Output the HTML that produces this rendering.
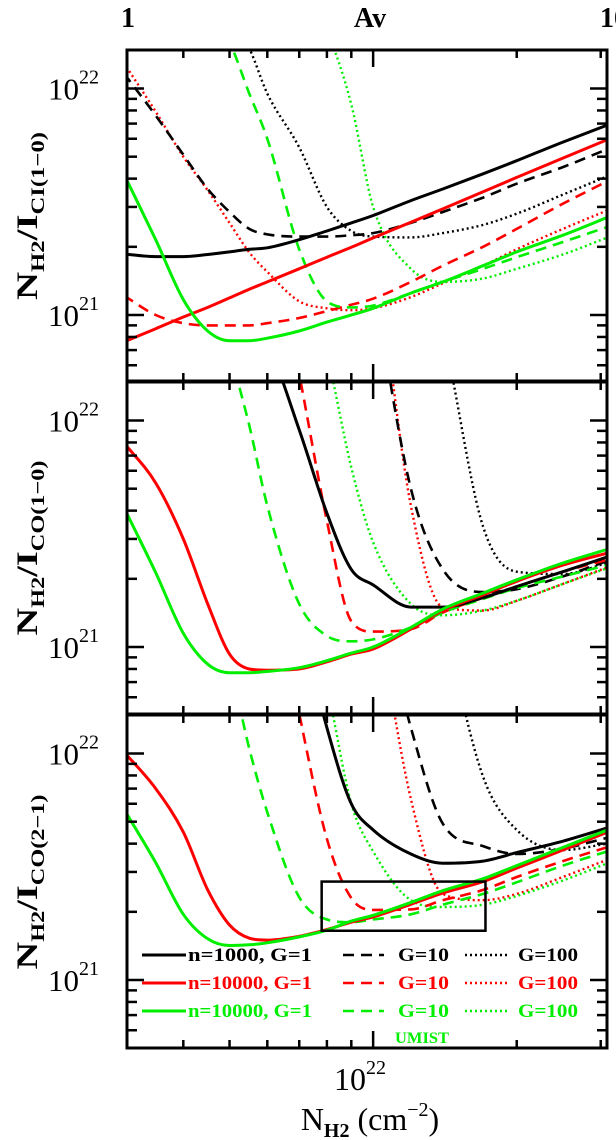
<!DOCTYPE html>
<html><head><meta charset="utf-8">
<style>
html,body{margin:0;padding:0;background:#fff;}
svg{display:block;font-family:"Liberation Serif","DejaVu Serif",serif;}
</style></head>
<body>
<svg id="chart" width="616" height="1140" viewBox="0 0 616 1140" xmlns="http://www.w3.org/2000/svg">
  <defs>
    <clipPath id="clip0"><rect x="127" y="50" width="480" height="331"/></clipPath>
    <clipPath id="clip1"><rect x="127" y="382" width="480" height="332"/></clipPath>
    <clipPath id="clip2"><rect x="127" y="715" width="480" height="333"/></clipPath>
  </defs>
  <g id="curves"></g>
  <g id="frames"></g>
  <g id="labels" font-weight="bold">
    <text x="128" y="27" font-size="28" text-anchor="middle">1</text>
    <text x="370" y="27" font-size="28" text-anchor="middle">Av</text>
    <text x="614" y="27" font-size="28" text-anchor="middle">10</text>
    <g transform="translate(37,216) rotate(-90)">
      <text text-anchor="middle" font-size="30" textLength="168" lengthAdjust="spacingAndGlyphs">N<tspan font-size="19" dy="7">H2</tspan><tspan dy="-7">/I</tspan><tspan font-size="19" dy="7">CI(1−0)</tspan></text>
    </g>
    <g transform="translate(37,548) rotate(-90)">
      <text text-anchor="middle" font-size="30" textLength="175" lengthAdjust="spacingAndGlyphs">N<tspan font-size="19" dy="7">H2</tspan><tspan dy="-7">/I</tspan><tspan font-size="19" dy="7">CO(1−0)</tspan></text>
    </g>
    <g transform="translate(37,882) rotate(-90)">
      <text text-anchor="middle" font-size="30" textLength="175" lengthAdjust="spacingAndGlyphs">N<tspan font-size="19" dy="7">H2</tspan><tspan dy="-7">/I</tspan><tspan font-size="19" dy="7">CO(2−1)</tspan></text>
    </g>
    <text x="360" y="1090" font-size="32" text-anchor="middle" font-weight="normal">10<tspan font-size="20" dy="-16">22</tspan></text>
    <text x="370" y="1130" font-size="32" text-anchor="middle" font-weight="normal">N<tspan font-size="20" dy="7" font-weight="bold">H2</tspan><tspan dy="-7"> (cm</tspan><tspan font-size="20" dy="-14">−2</tspan><tspan dy="14">)</tspan></text>
  </g>
  <g id="legend" font-weight="bold" font-size="19"></g>
</svg>
<script>
// Column density grid (units of 1e21 cm^-2)
const nGrid = [3,3.5,4,4.5,5,5.5,6,7,8,9,10,12,14,17,20,25,31];
// Panel 1: N/I_CI(1-0) (units 1e21)
const ci_k1 = [1.86,1.81,1.81,1.85,1.9,1.95,1.98,2.15,2.35,2.55,2.75,3.2,3.6,4.2,4.8,5.8,6.9];
const ci_k10 = [11.7,7.6,5.1,3.6,2.85,2.4,2.27,2.22,2.22,2.25,2.3,2.55,2.85,3.3,3.8,4.5,5.4];
const ci_k100 = [90,60,40,28,20,15,9.5,5.5,3.0,2.35,2.22,2.2,2.3,2.5,2.8,3.4,4.1];
const ci_r1 = [0.76,0.87,0.98,1.08,1.19,1.30,1.40,1.60,1.80,1.99,2.19,2.57,2.94,3.50,4.05,4.93,5.95];
const ci_r10 = [1.22,1.0,0.92,0.9,0.9,0.9,0.92,0.97,1.04,1.11,1.18,1.4,1.65,2.0,2.4,3.1,3.9];
const ci_r100 = [13,7.9,5.0,3.55,2.55,1.89,1.55,1.15,1.07,1.05,1.07,1.2,1.38,1.65,1.95,2.4,2.9];
const ci_g1 = [4.2,2.15,1.17,0.85,0.77,0.77,0.79,0.85,0.93,1.0,1.07,1.25,1.4,1.65,1.9,2.25,2.7];
const ci_g10 = [60,45,32,22,16,9.5,6.0,1.95,1.15,1.08,1.1,1.25,1.4,1.6,1.8,2.1,2.45];
const ci_g100 = [500,300,200,120,80,60,45,30,18,8.5,3.0,1.6,1.4,1.45,1.6,1.85,2.2];
// Panel 2: N/I_CO(1-0)
const co10_k1 = [400,200,100,60,40,28,22,9.1,3.9,2.2,1.88,1.5,1.5,1.65,1.85,2.15,2.5];
const co10_k10 = [9000,6000,4000,2500,1500,1000,700,400,200,120,40,5.0,2.2,1.75,1.8,2.05,2.4];
const co10_k100 = [20000,15000,10000,6000,4000,3000,2000,1200,800,500,300,80,25,3.4,2.15,2.1,2.35];
const co10_r1 = [8.0,5.3,3.0,1.55,0.93,0.8,0.79,0.8,0.86,0.93,0.98,1.2,1.45,1.7,1.95,2.3,2.6];
const co10_r10 = [1000,700,500,300,200,120,80,16,3.6,1.3,1.17,1.2,1.42,1.65,1.85,2.15,2.43];
const co10_r100 = [9000,6000,4000,2500,1500,1000,700,400,200,120,60,4.2,1.5,1.45,1.6,1.9,2.25];
const co10_g1 = [4.15,2.13,1.15,0.84,0.77,0.77,0.78,0.81,0.87,0.94,1.0,1.22,1.47,1.73,1.98,2.35,2.7];
const co10_g10 = [300,150,80,40,20,9.5,4.2,1.55,1.12,1.06,1.08,1.22,1.42,1.63,1.82,2.05,2.3];
const co10_g100 = [3000,2000,1200,800,500,300,200,60,20,6.2,2.9,1.55,1.38,1.45,1.6,1.9,2.23];
// Panel 3: N/I_CO(2-1)
const co21_k1 = [5000,2000,1000,600,400,250,150,40,13,6.0,4.6,3.6,3.28,3.35,3.65,4.1,4.7];
const co21_k10 = [9000,6000,4000,2500,1500,1000,700,400,200,120,60,13,4.9,3.9,3.6,3.8,4.25];
const co21_k100 = [20000,15000,10000,6000,4000,3000,2000,1200,800,500,300,150,40,7.9,4.6,3.75,4.0];
const co21_r1 = [10.2,7.0,4.5,2.5,1.75,1.53,1.5,1.56,1.67,1.8,1.9,2.16,2.42,2.72,3.12,3.75,4.5];
const co21_r10 = [1000,700,500,300,200,120,80,15,4.2,2.3,2.04,2.05,2.25,2.5,2.85,3.35,3.86];
const co21_r100 = [9000,6000,4000,2500,1500,1000,700,400,200,120,50,6.3,2.4,2.25,2.4,2.85,3.4];
const co21_g1 = [5.7,3.3,1.95,1.52,1.42,1.43,1.46,1.55,1.66,1.82,1.93,2.2,2.48,2.8,3.2,3.85,4.6];
const co21_g10 = [300,150,80,45,25,10.5,5.5,2.32,1.85,1.8,1.85,1.95,2.15,2.4,2.7,3.2,3.7];
const co21_g100 = [3000,2000,1200,800,500,300,200,60,20,6.0,3.7,2.25,2.1,2.15,2.35,2.75,3.28];
// Tick values
const xMinorTicks = [4,5,6,7,8,9,20,30];
const xMajorTicks = [10];
const yMinorTicks = [0.6,0.7,0.8,0.9,2,3,4,5,6,7,8,9];
const yMajorTicks = [1,10];
const yTickLabels = ["21","22"];
const legendRows = ["n=1000, G=1","n=10000, G=1","n=10000, G=1"];
const legendG = ["G=10","G=100"];

const NS = "http://www.w3.org/2000/svg";
const panelTop = [50,382,715];
const panelBot = [381,714,1048];
const X0 = 127, X1 = 607;
function xS(n){ return X0 + 477*(Math.log10(n) - 0.484); }
function yS(p, v){ return panelTop[p] + (1.17 - Math.log10(v))*226.5; }

function monoPath(pts){
  const n = pts.length;
  const dx=[],dy=[],m=[];
  for(let i=0;i<n-1;i++){dx.push(pts[i+1][0]-pts[i][0]);dy.push(pts[i+1][1]-pts[i][1]);m.push(dy[i]/dx[i]);}
  const t=[m[0]];
  for(let i=1;i<n-1;i++){ t.push(m[i-1]*m[i]<=0?0:(m[i-1]+m[i])/2); }
  t.push(m[n-2]);
  for(let i=0;i<n-1;i++){
    if(m[i]===0){t[i]=0;t[i+1]=0;continue;}
    const a=t[i]/m[i], b=t[i+1]/m[i], s=a*a+b*b;
    if(s>9){const k=3/Math.sqrt(s);t[i]=k*a*m[i];t[i+1]=k*b*m[i];}
  }
  let d="M"+pts[0][0].toFixed(1)+","+pts[0][1].toFixed(1);
  for(let i=0;i<n-1;i++){
    const h=dx[i]/3;
    d+=" C"+(pts[i][0]+h).toFixed(1)+","+(pts[i][1]+t[i]*h).toFixed(1)+" "+(pts[i+1][0]-h).toFixed(1)+","+(pts[i+1][1]-t[i+1]*h).toFixed(1)+" "+pts[i+1][0].toFixed(1)+","+pts[i+1][1].toFixed(1);
  }
  return d;
}
const COL = {k:"#000000", r:"#ff0000", g:"#00ee00"};
const STY = {
  s:{w:3, dash:null},
  d:{w:2.6, dash:"11,7"},
  o:{w:2.4, dash:"2,3"}
};
const series = [
  [0,"ci-n1000-g1",ci_k1,"k","s"],[0,"ci-n1000-g10",ci_k10,"k","d"],[0,"ci-n1000-g100",ci_k100,"k","o"],
  [0,"ci-n10000-g1",ci_r1,"r","s"],[0,"ci-n10000-g10",ci_r10,"r","d"],[0,"ci-n10000-g100",ci_r100,"r","o"],
  [0,"ci-umist-g1",ci_g1,"g","s"],[0,"ci-umist-g10",ci_g10,"g","d"],[0,"ci-umist-g100",ci_g100,"g","o"],
  [1,"co10-n1000-g1",co10_k1,"k","s"],[1,"co10-n1000-g10",co10_k10,"k","d"],[1,"co10-n1000-g100",co10_k100,"k","o"],
  [1,"co10-n10000-g1",co10_r1,"r","s"],[1,"co10-n10000-g10",co10_r10,"r","d"],[1,"co10-n10000-g100",co10_r100,"r","o"],
  [1,"co10-umist-g1",co10_g1,"g","s"],[1,"co10-umist-g10",co10_g10,"g","d"],[1,"co10-umist-g100",co10_g100,"g","o"],
  [2,"co21-n1000-g1",co21_k1,"k","s"],[2,"co21-n1000-g10",co21_k10,"k","d"],[2,"co21-n1000-g100",co21_k100,"k","o"],
  [2,"co21-n10000-g1",co21_r1,"r","s"],[2,"co21-n10000-g10",co21_r10,"r","d"],[2,"co21-n10000-g100",co21_r100,"r","o"],
  [2,"co21-umist-g1",co21_g1,"g","s"],[2,"co21-umist-g10",co21_g10,"g","d"],[2,"co21-umist-g100",co21_g100,"g","o"]
];
const gC = document.getElementById("curves");
const order = ["o","d","s"];
order.forEach(st=>{
  series.filter(s=>s[4]===st).forEach(s=>{
    const [p,name,vals,c,style]=s;
    const pts = nGrid.map((n,i)=>[xS(n), Math.max(yS(p, vals[i]), panelTop[p]-400)]);
    const path = document.createElementNS(NS,"path");
    path.setAttribute("d", monoPath(pts));
    path.setAttribute("fill","none");
    path.setAttribute("stroke",COL[c]);
    path.setAttribute("stroke-width",STY[style].w);
    if(STY[style].dash) path.setAttribute("stroke-dasharray",STY[style].dash);
    path.setAttribute("clip-path","url(#clip"+p+")");
    
    
    gC.appendChild(path);
  });
});

// Highlight box in panel 3
const box = document.createElementNS(NS,"rect");
box.setAttribute("x",xS(7.8)); box.setAttribute("y",yS(2,2.72));
box.setAttribute("width",xS(17.2)-xS(7.8)); box.setAttribute("height",yS(2,1.65)-yS(2,2.72));
box.setAttribute("fill","none"); box.setAttribute("stroke","#000"); box.setAttribute("stroke-width","2.5");


gC.appendChild(box);

// Frames and ticks
const gF = document.getElementById("frames");
function line(x1,y1,x2,y2,w,parent){
  const l=document.createElementNS(NS,"line");
  l.setAttribute("x1",x1);l.setAttribute("y1",y1);l.setAttribute("x2",x2);l.setAttribute("y2",y2);
  l.setAttribute("stroke","#000");l.setAttribute("stroke-width",w);
  parent.appendChild(l); return l;
}
for(let p=0;p<3;p++){
  const g=document.createElementNS(NS,"g");
  
  
  gF.appendChild(g);
  const r=document.createElementNS(NS,"rect");
  r.setAttribute("x",X0);r.setAttribute("y",panelTop[p]);r.setAttribute("width",X1-X0);r.setAttribute("height",panelBot[p]-panelTop[p]);
  r.setAttribute("fill","none");r.setAttribute("stroke","#000");r.setAttribute("stroke-width","3");
  
  
  g.appendChild(r);
  xMinorTicks.forEach(n=>{const x=xS(n); line(x,panelTop[p],x,panelTop[p]+8,2.5,g); line(x,panelBot[p],x,panelBot[p]-8,2.5,g);});
  xMajorTicks.forEach(n=>{const x=xS(n); line(x,panelTop[p],x,panelTop[p]+17,2.5,g); line(x,panelBot[p],x,panelBot[p]-17,2.5,g);});
  yMinorTicks.forEach(v=>{const y=yS(p,v); if(y>panelTop[p]+2&&y<panelBot[p]-2){line(X0,y,X0+10,y,2.5,g); line(X1,y,X1-10,y,2.5,g);}});
  yMajorTicks.forEach((v,i)=>{const y=yS(p,v); line(X0,y,X0+17,y,2.5,g); line(X1,y,X1-17,y,2.5,g);
    const t=document.createElementNS(NS,"text");
    t.setAttribute("x",48);t.setAttribute("y",y+11);t.setAttribute("font-size","31");
    
    
    t.textContent="10";
    const s=document.createElementNS(NS,"tspan");
    s.setAttribute("font-size","20");s.setAttribute("dy","-16");
    s.textContent=yTickLabels[i];
    t.appendChild(s);
    g.appendChild(t);
  });
}

// Legend
const gL=document.getElementById("legend");
const rowY=[961,989,1017];
const rowC=["k","r","g"];
rowY.forEach((y,i)=>{
  const c=COL[rowC[i]];
  const ent=document.createElementNS(NS,"g");
  
  
  gL.appendChild(ent);
  [[142,186,"s"],[343,384,"d"],[465,508,"o"]].forEach(a=>{
    const l=line(a[0],y-6,a[1],y-6,STY[a[2]].w,ent); l.setAttribute("stroke",c);
    if(STY[a[2]].dash) l.setAttribute("stroke-dasharray",STY[a[2]].dash);
  });
  [[188,legendRows[i],124],[398,legendG[0],51],[518,legendG[1],60]].forEach(a=>{
    const t=document.createElementNS(NS,"text");
    t.setAttribute("x",a[0]);t.setAttribute("y",y);t.setAttribute("fill",c);
    t.setAttribute("textLength",a[2]);t.setAttribute("lengthAdjust","spacingAndGlyphs");
    
    
    t.textContent=a[1];
    ent.appendChild(t);
  });
});
const um=document.createElementNS(NS,"text");
um.setAttribute("x",395);um.setAttribute("y",1043);um.setAttribute("fill",COL.g);um.setAttribute("font-size","16");
um.setAttribute("textLength","54");um.setAttribute("lengthAdjust","spacingAndGlyphs");


um.textContent="UMIST";
gL.appendChild(um);
</script>
</body></html>
